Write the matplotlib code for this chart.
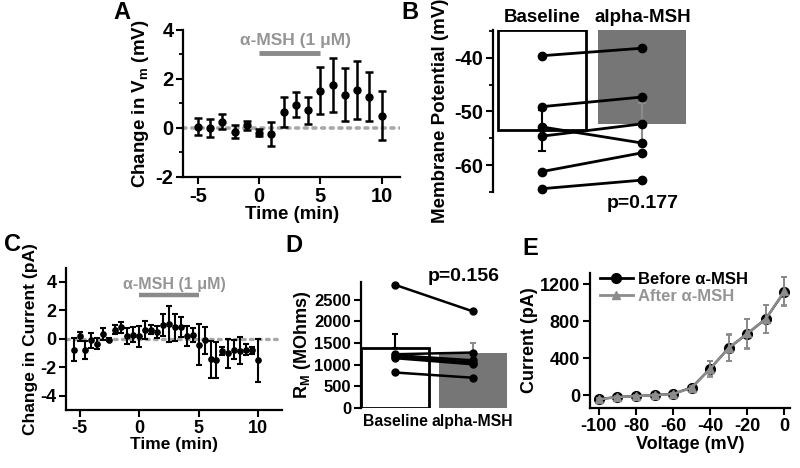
import matplotlib
matplotlib.use("Agg")
import matplotlib.pyplot as plt
import matplotlib.transforms as mtransforms
from matplotlib.lines import Line2D
import numpy as np

plt.rcParams['font.family'] = ['Liberation Sans', 'DejaVu Sans']
plt.rcParams['font.weight'] = 'bold'
plt.rcParams['axes.labelweight'] = 'bold'
plt.rcParams['axes.unicode_minus'] = False
plt.rcParams['mathtext.fontset'] = 'custom'
plt.rcParams['mathtext.rm'] = 'Liberation Sans:bold'
plt.rcParams['mathtext.bf'] = 'Liberation Sans:bold'
plt.rcParams['mathtext.it'] = 'Liberation Sans:bold'

# ---------------- Data ----------------
# Panel A: change in Vm over time
a_time = [-5, -4, -3, -2, -1, 0, 1, 2, 3, 4, 5, 6, 7, 8, 9, 10]
a_mean = [0.05, 0.0, 0.25, -0.15, 0.1, -0.2, -0.25, 0.65, 0.95, 0.72, 1.52, 1.77, 1.35, 1.55, 1.27, 0.5]
a_err = [0.35, 0.38, 0.3, 0.25, 0.2, 0.15, 0.48, 0.6, 0.5, 0.55, 0.97, 1.1, 1.08, 1.2, 1.0, 1.0]

# Panel B: membrane potential paired
b_groups = ['Baseline', 'alpha-MSH']
b_bar_mean = [-53.5, -52.3]
b_bar_err = [3.8, 3.8]
b_baseline = [-39.6, -49.1, -52.9, -54.6, -61.2, -64.4]
b_alpha = [-38.2, -47.3, -55.9, -52.3, -57.7, -62.8]
b_p = 'p=0.177'

# Panel C: change in current over time
c_time = [-5.5, -5.0, -4.5, -4.0, -3.5, -3.0, -2.5, -2.0, -1.5, -1.0, -0.5, 0.0,
          0.5, 1.0, 1.5, 2.0, 2.5, 3.0, 3.5, 4.0, 4.5, 5.0, 5.5, 6.0, 6.5, 7.0,
          7.5, 8.0, 8.5, 9.0, 9.5, 10.0]
c_mean = [-0.76, 0.18, -0.76, -0.11, -0.34, 0.34, -0.07, 0.64, 0.8, 0.18, 0.3, 0.18,
          0.62, 0.64, 0.5, 0.97, 1.03, 0.8, 0.8, 0.23, 0.28, -0.4, -0.11, -1.43,
          -1.5, -0.85, -1.03, -0.76, -0.85, -0.76, -0.8, -1.5]
c_err = [0.8, 0.3, 0.63, 0.5, 0.37, 0.42, 0.1, 0.33, 0.4, 0.55, 0.5, 0.75,
         0.65, 0.3, 0.42, 0.75, 1.25, 0.95, 0.7, 0.7, 0.5, 1.45, 0.95, 1.3,
         1.25, 0.3, 1.0, 0.65, 0.95, 0.4, 0.25, 1.5]

# Panel D: input resistance paired
d_groups = ['Baseline', 'alpha-MSH']
d_bar_mean = [1380, 1265]
d_bar_err = [320, 230]
d_baseline = [2840, 1240, 1220, 1180, 1150, 820]
d_alpha = [2230, 1280, 1100, 1050, 1010, 700]
d_p = 'p=0.156'

# Panel E: I-V curve
e_volt = [-100, -90, -80, -70, -60, -50, -40, -30, -20, -10, 0]
e_before = [-40, -17, -7, 3, 17, 85, 290, 513, 667, 828, 1122]
e_before_err = [10, 10, 10, 10, 12, 20, 85, 145, 160, 150, 155]
e_after = [-42, -18, -8, 2, 15, 83, 288, 515, 670, 830, 1128]
e_after_err = [10, 10, 10, 10, 12, 20, 85, 145, 160, 150, 155]
e_labels = ['Before α-MSH', 'After α-MSH']

drug_label = 'α-MSH (1 μM)'
drug_window = [0, 5]

GRAY_BAR = '#767676'
GRAY_TXT = '#959595'
GRAY_DOT = '#a8a8a8'

fig = plt.figure(figsize=(8, 4.68), dpi=100)


def style(ax, fs):
    for s in ['top', 'right']:
        ax.spines[s].set_visible(False)
    for s in ['left', 'bottom']:
        ax.spines[s].set_linewidth(1.6)
    ax.tick_params(direction='out', length=5, width=1.5, labelsize=fs, pad=2)
    ax.tick_params(which='minor', direction='out', length=3, width=1.3)
    for lab in ax.get_xticklabels() + ax.get_yticklabels():
        lab.set_fontweight('bold')


# ---------- Panel A ----------
axA = fig.add_axes([0.229, 0.622, 0.271, 0.314])
axA.set_xlim(-6.2, 11.5)
axA.set_ylim(-2, 4)
axA.axhline(0, color=GRAY_DOT, lw=2.6, ls=(0, (0.8, 1.6)), dash_capstyle='round', zorder=1)
axA.errorbar(a_time, a_mean, yerr=a_err, fmt='o', color='black', ms=5,
             elinewidth=1.8, capsize=3, capthick=1.8, zorder=3)
axA.plot(drug_window, [3.05, 3.05], color='#8a8a8a', lw=3.5, solid_capstyle='butt')
axA.text(3.0, 3.55, drug_label, color=GRAY_TXT, fontsize=12.5, fontweight='bold',
         ha='center', va='center')
axA.set_xticks([-5, 0, 5, 10])
axA.set_yticks([-2, 0, 2, 4])
axA.set_yticks([-1, 1, 3], minor=True)
axA.set_xlabel('Time (min)', fontsize=13.5, labelpad=0)
axA.set_ylabel(r'Change in V$_\mathrm{m}$ (mV)', fontsize=13.5, labelpad=3)
style(axA, 14.5)

# ---------- Panel B ----------
axB = fig.add_axes([0.616, 0.590, 0.249, 0.346])
b_top = -34.8
axB.set_xlim(-0.495, 1.495)
axB.set_ylim(-65, b_top)
bx = np.arange(len(b_groups))
axB.bar(bx[0], b_bar_mean[0] - b_top, bottom=b_top, width=0.88, facecolor='white',
        edgecolor='black', lw=2, zorder=1)
axB.bar(bx[1], b_bar_mean[1] - b_top, bottom=b_top, width=0.88, facecolor=GRAY_BAR,
        edgecolor='none', zorder=1)
axB.errorbar(bx[0], b_bar_mean[0], yerr=b_bar_err[0], color='black', lw=1.5,
             capsize=3, capthick=1.5, zorder=2)
axB.errorbar(bx[1], b_bar_mean[1], yerr=b_bar_err[1], color='#8c8c8c', lw=1.5,
             capsize=3, capthick=1.5, zorder=2)
for v0, v1 in zip(b_baseline, b_alpha):
    axB.plot(bx, [v0, v1], color='black', lw=2, marker='o', ms=6, zorder=4, clip_on=False)
axB.set_xticks(bx)
axB.set_xticklabels(b_groups)
axB.xaxis.set_ticks_position('top')
axB.set_yticks([-40, -50, -60])
axB.set_yticks([-35, -45, -55, -65], minor=True)
axB.set_ylabel('Membrane Potential (mV)', fontsize=13.5, labelpad=4)
style(axB, 14.5)
axB.spines['bottom'].set_visible(False)
axB.tick_params(axis='x', length=0, top=True, bottom=False, pad=3, labelsize=13.5)
axB.text(bx[1], -0.07, b_p, transform=axB.get_xaxis_transform(), ha='center',
         va='center', fontsize=14, fontweight='bold')

# ---------- Panel C ----------
axC = fig.add_axes([0.083, 0.124, 0.2695, 0.304])
axC.set_xlim(-6.1, 12)
axC.set_ylim(-5, 5)
axC.axhline(0, color=GRAY_DOT, lw=2.4, ls=(0, (0.8, 1.6)), dash_capstyle='round', zorder=1)
axC.errorbar(c_time, c_mean, yerr=c_err, fmt='o', color='black', ms=3.8,
             elinewidth=1.5, capsize=2.2, capthick=1.5, zorder=3)
axC.plot(drug_window, [3.05, 3.05], color='#8a8a8a', lw=3.2, solid_capstyle='butt')
axC.text(3.0, 3.85, drug_label, color=GRAY_TXT, fontsize=11.5, fontweight='bold',
         ha='center', va='center')
axC.set_xticks([-5, 0, 5, 10])
axC.set_yticks([-4, -2, 0, 2, 4])
axC.set_xlabel('Time (min)', fontsize=12.5, labelpad=0)
axC.set_ylabel('Change in Current (pA)', fontsize=12.5, labelpad=2)
style(axC, 13)

# ---------- Panel D ----------
axD = fig.add_axes([0.451, 0.128, 0.1865, 0.269])
axD.set_xlim(-0.44, 1.48)
axD.set_ylim(0, 2900)
dx = np.arange(len(d_groups))
axD.bar(dx[0], d_bar_mean[0], width=0.88, facecolor='white', edgecolor='black', lw=2, zorder=1)
axD.bar(dx[1], d_bar_mean[1], width=0.88, facecolor=GRAY_BAR, edgecolor='none', zorder=1)
axD.errorbar(dx[0], d_bar_mean[0], yerr=[[0], [d_bar_err[0]]], color='black', lw=1.5,
             capsize=2.5, capthick=1.5, zorder=2)
axD.errorbar(dx[1], d_bar_mean[1], yerr=[[0], [d_bar_err[1]]], color='#8c8c8c', lw=1.5,
             capsize=2.5, capthick=1.5, zorder=2)
for v0, v1 in zip(d_baseline, d_alpha):
    axD.plot(dx, [v0, v1], color='black', lw=1.8, marker='o', ms=5, zorder=4, clip_on=False)
axD.set_xticks(dx)
axD.set_xticklabels(d_groups)
axD.set_yticks([0, 500, 1000, 1500, 2000, 2500])
axD.set_ylabel(r'R$_\mathrm{M}$ (MOhms)', fontsize=13, labelpad=1)
style(axD, 12)
axD.spines['bottom'].set_visible(False)
axD.tick_params(axis='x', length=0, pad=4, labelsize=11.3)
axD.get_xticklabels()[1].set_x(1.05)
axD.text(0.88, 1.045, d_p,
         transform=mtransforms.blended_transform_factory(axD.transData, axD.transAxes),
         ha='center', va='center', fontsize=14, fontweight='bold')

# ---------- Panel E ----------
axE = fig.add_axes([0.737, 0.128, 0.2505, 0.289])
axE.set_xlim(-105, 3)
axE.set_ylim(-137, 1325)
axE.errorbar(e_volt, e_before, yerr=e_before_err, color='black', lw=1.6, marker='o',
             ms=7, elinewidth=1.2, capsize=2, capthick=1.2, ecolor='#888888',
             zorder=3, clip_on=False)
axE.errorbar(e_volt, e_after, yerr=e_after_err, color='#8c8c8c', lw=1.8, marker='^',
             ms=6, elinewidth=1.2, capsize=2, capthick=1.2, ecolor='#888888',
             zorder=4, clip_on=False)
axE.set_xticks([-100, -80, -60, -40, -20, 0])
axE.set_yticks([0, 400, 800, 1200])
axE.set_xlabel('Voltage (mV)', fontsize=13, labelpad=1)
axE.set_ylabel('Current (pA)', fontsize=13, labelpad=1)
style(axE, 13)
handles = [Line2D([], [], color='black', lw=2, marker='o', ms=7),
           Line2D([], [], color='#8c8c8c', lw=2, marker='^', ms=6)]
leg = axE.legend(handles, e_labels, loc='upper left', bbox_to_anchor=(0.0, 1.08),
                 frameon=False, fontsize=12, handlelength=2.0, handletextpad=0.3,
                 labelspacing=0.1, borderaxespad=0.2)
for t, c in zip(leg.get_texts(), ['black', GRAY_TXT]):
    t.set_color(c)
    t.set_fontweight('bold')

# ---------- Panel letters ----------
for letter, x, y in [('A', 0.153, 0.974), ('B', 0.512, 0.974), ('C', 0.016, 0.478),
                     ('D', 0.368, 0.475), ('E', 0.663, 0.470)]:
    fig.text(x, y, letter, fontsize=17, fontweight='bold', ha='center', va='center')

fig.savefig('out.png', dpi=100)
